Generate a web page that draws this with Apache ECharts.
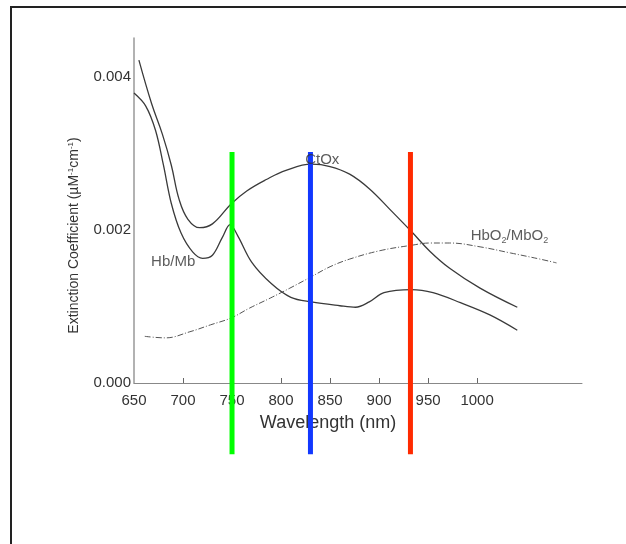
<!DOCTYPE html>
<html>
<head>
<meta charset="utf-8">
<script src="https://cdn.jsdelivr.net/npm/echarts@6/dist/echarts.min.js"></script>
<style>
html,body{margin:0;padding:0;background:#fff;}
#chart{width:626px;height:544px;}
</style>
</head>
<body>
<div id="chart"></div>
<script>
// ---- data ----
const ctoxWl = [655,668,679,688,696,705,717,730,749,765,785,805,831,850,870,890,911,933,952,972,1003,1041];
const ctoxVal = [0.00422,0.00365,0.00325,0.00285,0.00240,0.00214,0.00203,0.00208,0.00234,0.00251,0.00266,0.00278,0.00286,0.00283,0.00273,0.00254,0.00227,0.00198,0.00172,0.00150,0.00124,0.00099];

const hbWl = [650,662,672,680,688,698,710,720,730,740,748,756,770,790,810,831,860,876,890,905,933,955,983,1013,1041];
const hbVal = [0.00379,0.00362,0.00330,0.00285,0.00235,0.00196,0.00171,0.00163,0.00167,0.00190,0.00207,0.00192,0.00158,0.00130,0.00112,0.00106,0.00101,0.00099,0.00106,0.00118,0.00122,0.00118,0.00105,0.00089,0.00069];

const hbo2Wl = [661,682,707,728,749,768,789,809,831,850,870,901,933,952,972,1003,1034,1064,1081];
const hbo2Val = [0.00061,0.00059,0.00067,0.00076,0.00085,0.00098,0.00111,0.00124,0.00139,0.00152,0.00162,0.00173,0.00180,0.00183,0.00183,0.00178,0.00170,0.00162,0.00157];

// vertical wavelength markers
const markerWl = [750, 830, 932];
const markerTop = 0.00302;
const markerBottom = -0.00093;

// curve annotations
const annoText = ['CtOx', 'Hb/Mb', '{n|HbO}{s|2}{n|/MbO}{s|2}'];
const annoWl = [842, 690, 1033];
const annoVal = [0.00292, 0.00159, 0.00192];

// axis ticks / labels
const xLabelValues = [650,700,750,800,850,900,950,1000];
const xTickValues = [700,750,800,850,900,950,1000];

// ---- chart ----
const markerColors = ['#00ff00', '#1238ff', '#ff2a00'];
const pairs = (xs, ys) => xs.map((x, i) => [x, ys[i]]);
const font = '"Liberation Sans", Arial, Helvetica, sans-serif';

const series = [
  {type:'line', name:'CtOx', data: pairs(ctoxWl, ctoxVal), smooth:0.4, showSymbol:false,
   lineStyle:{color:'#3a3a3a', width:1.3}, z:3},
  {type:'line', name:'Hb/Mb', data: pairs(hbWl, hbVal), smooth:0.35, showSymbol:false,
   lineStyle:{color:'#3a3a3a', width:1.3}, z:3},
  {type:'line', name:'HbO2/MbO2', data: pairs(hbo2Wl, hbo2Val), smooth:0.4, showSymbol:false,
   lineStyle:{color:'#555', width:1, type:[6,2,1,2]}, z:3},
];
markerWl.forEach((w, i) => {
  series.push({type:'line', data:[[w, markerTop],[w, markerBottom]], clip:false, showSymbol:false,
    lineStyle:{color:markerColors[i], width:5}, z:5, silent:true});
});
series.push({
  type:'scatter', symbolSize:0, z:6,
  data: annoWl.map((w, i) => ({value:[w, annoVal[i]], name: annoText[i]})),
  label:{show:true, position:'inside', formatter: p => p.name, color:'#333', fontSize:15, fontFamily:font,
    rich:{n:{fontSize:15, color:'#333', fontFamily:font}, s:{fontSize:9, color:'#333', fontFamily:font, padding:[9,0,0,0]}}}
});

const chart = echarts.init(document.getElementById('chart'), null, {renderer:'canvas'});
chart.setOption({
  animation:false,
  backgroundColor:'#fff',
  graphic:[{type:'rect', shape:{x:11, y:7, width:1000, height:1000},
    style:{fill:'none', stroke:'#222', lineWidth:2}, z:10}],
  grid:{left:134, right:44, top:38, bottom:161, containLabel:false},
  xAxis:{
    type:'value', min:650, max:1107,
    name:'Wavelength (nm)', nameLocation:'middle', nameGap:31,
    nameTextStyle:{fontSize:18, color:'#333', fontFamily:font, padding:[0,60,0,0]},
    axisLine:{onZero:false, lineStyle:{color:'#888', width:1}},
    axisTick:{show:true, inside:true, length:5, customValues:xTickValues, lineStyle:{color:'#666'}},
    axisLabel:{customValues:xLabelValues, color:'#333', fontSize:15, fontFamily:font, margin:10,
      formatter: v => String(v)},
    splitLine:{show:false}
  },
  yAxis:{
    type:'value', min:0, max:0.00451, interval:0.002,
    name:'{t|Extinction Coefficient (µM}{p|-1}{t|cm}{p|-1}{t|)}',
    nameLocation:'middle', nameGap:52, nameRotate:90,
    nameTextStyle:{fontSize:14, color:'#333', fontFamily:font, padding:[0,50,0,0],
      rich:{t:{fontSize:14, color:'#333', fontFamily:font}, p:{fontSize:8, color:'#333', fontFamily:font, padding:[0,0,7,0]}}},
    axisLine:{show:true, lineStyle:{color:'#999', width:1.5}},
    axisTick:{show:false},
    axisLabel:{color:'#333', fontSize:15, fontFamily:font, margin:3, showMaxLabel:false,
      formatter: v => v.toFixed(3)},
    splitLine:{show:false}
  },
  series: series
});
</script>
</body>
</html>
